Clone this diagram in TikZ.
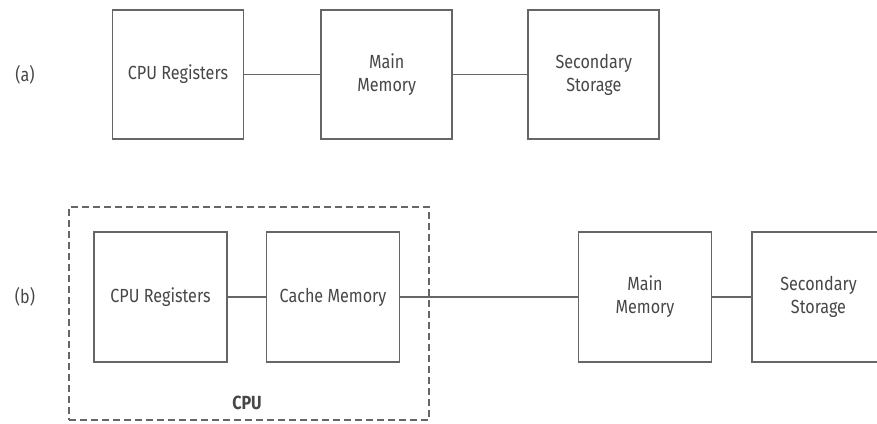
\documentclass[tikz,border=0pt]{standalone}
\usepackage{fontspec}
\setmainfont{Fira Sans}[FakeStretch=0.85]
\begin{document}
\begin{tikzpicture}[x=1pt,y=-1pt,
  blk/.style={draw=black!60, line width=1.8pt, rectangle, minimum width=131pt, minimum height=129pt, inner sep=0pt, align=center, text=black!72, font=\fontsize{19}{23}\selectfont},
  lbl/.style={text=black!72, font=\fontsize{19}{23}\selectfont},
  conn/.style={draw=black!60, line width=1.8pt}]
\useasboundingbox (0,0) rectangle (877,423);
% (a)
\node[lbl] (la) at (25,75) {(a)};
\node[blk] (a1) at (178,74.5) {CPU Registers};
\node[blk] (a2) at (386.7,74.5) {Main\\Memory};
\node[blk] (a3) at (593.8,74.5) {Secondary\\Storage};
\draw[conn] (a1) -- (a2);
\draw[conn] (a2) -- (a3);
% (b)
\node[lbl] (lb) at (25,297) {(b)};
\node[draw=black!60, line width=1.3pt, dash pattern=on 7pt off 4pt, minimum width=360pt, minimum height=213pt, inner sep=0pt] (cpu) at (249,313.5) {};
\node[blk, minimum width=133pt, minimum height=130pt] (b1) at (160.5,297) {CPU Registers};
\node[blk, minimum width=133pt, minimum height=130pt] (b2) at (333,297) {Cache Memory};
\node[blk, minimum width=133pt, minimum height=130pt] (b3) at (645,297) {Main\\Memory};
\node[blk, minimum width=133pt, minimum height=130pt] (b4) at (818.5,297) {Secondary\\Storage};
\node[lbl, font=\fontsize{19}{23}\selectfont\bfseries] (cpul) at (247,403) {CPU};
\draw[conn] (b1) -- (b2);
\draw[conn] (b2) -- (b3);
\draw[conn] (b3) -- (b4);
\end{tikzpicture}
\end{document}
